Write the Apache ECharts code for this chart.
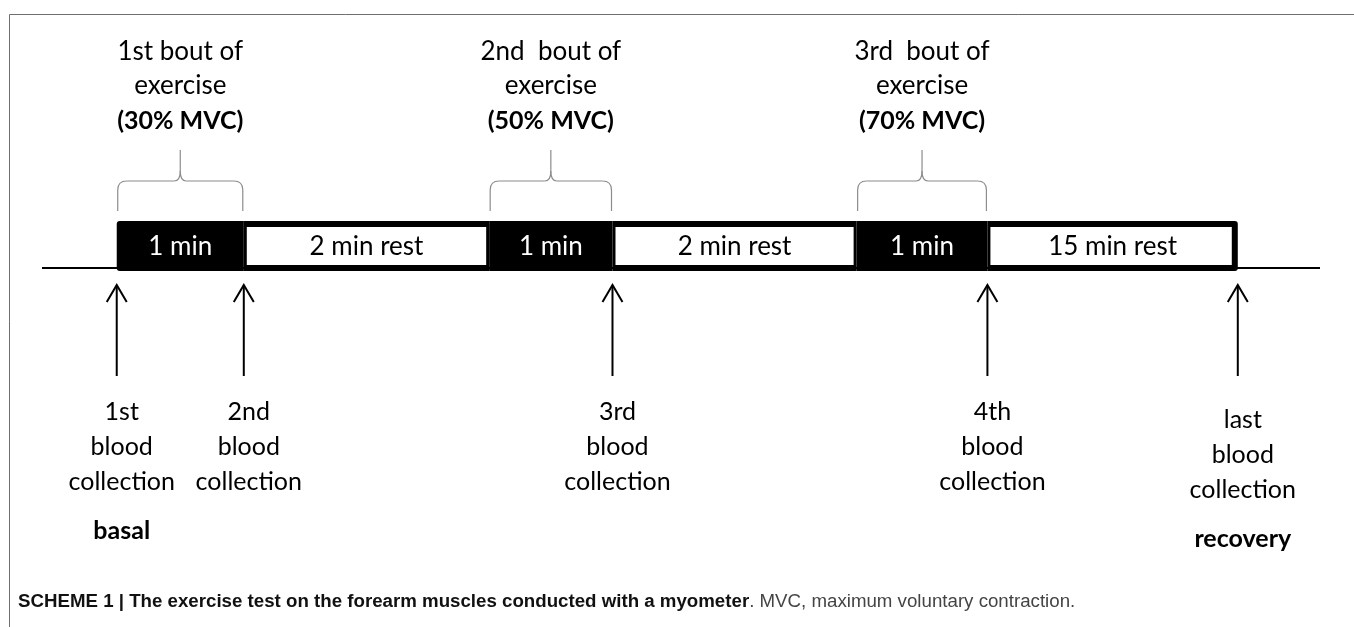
<!DOCTYPE html>
<html>
<head>
<meta charset="utf-8">
<title>Exercise test scheme</title>
<script src="https://cdn.jsdelivr.net/npm/echarts@6/dist/echarts.min.js"></script>
<style>
  html, body { margin: 0; padding: 0; background: #fff; }
  #chart { width: 1354px; height: 627px; }
</style>
</head>
<body>
<div id="chart"></div>
<script>
// timeline blocks (schematic widths, not to scale)
const segmentLabels = ['1 min', '2 min rest', '1 min', '2 min rest', '1 min', '15 min rest']
const segmentIsExercise = [true, false, true, false, true, false]
const segmentWidths = [1.02, 1.97, 0.99, 1.96, 1.05, 2.01]
const timelineExtent = [-0.6, 9.66]

// bouts of exercise sit over the black blocks
const boutSegments = [0, 2, 4]
const boutTitles = ['1st bout of', '2nd  bout of', '3rd  bout of']
const boutIntensities = ['(30% MVC)', '(50% MVC)', '(70% MVC)']

// blood collections at block boundaries
const collectionBoundaries = [0, 1, 3, 5, 6]
const collectionNames = ['1st', '2nd', '3rd', '4th', 'last']
const collectionPhases = ['basal', '', '', '', 'recovery']

const captionBold = 'SCHEME 1 | The exercise test on the forearm muscles conducted with a myometer'
const captionRest = '. MVC, maximum voluntary contraction.'

const FONT = 'Lato, "Open Sans", sans-serif'
const CAPTION_FONT = '"Liberation Sans", Arial, sans-serif'

// cumulative block edges
const edges = [0]
segmentWidths.forEach((w, i) => edges.push(edges[i] + w))

const segmentData = segmentWidths.map((w, i) => [edges[i], edges[i + 1], i])
const boutData = boutSegments.map((s, i) => [edges[s], edges[s + 1], i])
const collectionData = collectionBoundaries.map((b, i) => [edges[b], i])

const chart = echarts.init(document.getElementById('chart'))

const renderBaseline = (params, api) => {
  const cs = params.coordSys
  const y = api.coord([0, 0.06])[1]
  return {
    type: 'line',
    shape: { x1: cs.x, y1: y, x2: cs.x + cs.width, y2: y },
    style: { stroke: '#000', lineWidth: 2 }
  }
}

const renderSegment = (params, api) => {
  const i = api.value(2)
  const p0 = api.coord([api.value(0), 1])
  const p1 = api.coord([api.value(1), 0])
  const x = p0[0], y = p0[1], w = p1[0] - p0[0], h = p1[1] - p0[1]
  const last = i === segmentWidths.length - 1
  const children = [{
    type: 'rect',
    shape: { x: x, y: y, width: w, height: h, r: i === 0 ? [3, 0, 0, 3] : (last ? [0, 3, 3, 0] : 0) },
    style: { fill: '#000' }
  }]
  if (!segmentIsExercise[i]) {
    children.push({
      type: 'rect',
      shape: { x: x + 3, y: y + 6, width: w - (last ? 9 : 6), height: h - 12 },
      style: { fill: '#fff' }
    })
  }
  children.push({
    type: 'text',
    style: {
      x: x + w / 2, y: y + h / 2 + 1,
      text: segmentLabels[i],
      fill: segmentIsExercise[i] ? '#fff' : '#000',
      font: '26px ' + FONT,
      align: 'center', verticalAlign: 'middle'
    }
  })
  return { type: 'group', children: children }
}

const renderBout = (params, api) => {
  const i = api.value(2)
  const x0 = api.coord([api.value(0), 1])[0] + 1
  const x1 = api.coord([api.value(1), 1])[0] - 1
  const top = api.coord([0, 1])[1]
  const cx = (x0 + x1) / 2
  const yEnd = top - 10, yH = top - 40, yPeak = top - 71
  const stroke = { stroke: '#8c8c8c', lineWidth: 1.2, fill: null }
  const line = (a, b, c, d) => ({ type: 'line', shape: { x1: a, y1: b, x2: c, y2: d }, style: stroke })
  const curve = (a, b, c, d, e, f) => ({ type: 'bezierCurve', shape: { x1: a, y1: b, x2: c, y2: d, cpx1: e, cpy1: f }, style: stroke })
  return {
    type: 'group',
    children: [
      line(x0, yEnd, x0, yH + 9),
      curve(x0, yH + 9, x0 + 9, yH, x0, yH),
      line(x0 + 9, yH, cx - 6, yH),
      curve(cx - 6, yH, cx, yH - 10, cx, yH),
      line(cx, yH - 10, cx, yPeak),
      curve(cx + 6, yH, cx, yH - 10, cx, yH),
      line(cx + 6, yH, x1 - 9, yH),
      curve(x1 - 9, yH, x1, yH + 9, x1, yH),
      line(x1, yH + 9, x1, yEnd),
      {
        type: 'text',
        style: {
          x: cx, y: top - 186,
          text: boutTitles[i] + '\nexercise',
          fill: '#000', font: '26px ' + FONT, lineHeight: 34,
          align: 'center', verticalAlign: 'top'
        }
      },
      {
        type: 'text',
        style: {
          x: cx, y: top - 100,
          text: boutIntensities[i],
          fill: '#000', font: 'bold 25px ' + FONT,
          align: 'center', verticalAlign: 'middle'
        }
      }
    ]
  }
}

const renderCollection = (params, api) => {
  const i = api.value(1)
  const x = api.coord([api.value(0), 0])[0]
  const bottom = api.coord([0, 0])[1]
  const nudge = i === collectionNames.length - 1 ? 8 : 0
  const tip = bottom + 14, tail = bottom + 105
  const stroke = { stroke: '#000', lineWidth: 2, fill: null }
  return {
    type: 'group',
    children: [
      { type: 'line', shape: { x1: x, y1: tip, x2: x, y2: tail }, style: stroke },
      { type: 'polyline', shape: { points: [[x - 10, tip + 17], [x, tip], [x + 10, tip + 17]] }, style: stroke },
      {
        type: 'text',
        style: {
          x: x + 5, y: bottom + 123 + nudge,
          text: collectionNames[i] + '\nblood\ncollection',
          fill: '#000', font: '25px ' + FONT, lineHeight: 35,
          align: 'center', verticalAlign: 'top'
        }
      },
      {
        type: 'text',
        style: {
          x: x + 5, y: bottom + 260 + nudge,
          text: collectionPhases[i],
          fill: '#000', font: 'bold 25px ' + FONT,
          align: 'center', verticalAlign: 'middle'
        }
      }
    ]
  }
}

chart.setOption({
  animation: false,
  backgroundColor: '#fff',
  grid: { left: 42, right: 34, top: 221, height: 50 },
  xAxis: { type: 'value', min: timelineExtent[0], max: timelineExtent[1], show: false },
  yAxis: { type: 'value', min: 0, max: 1, show: false },
  graphic: [
    {
      type: 'rect',
      left: 7, top: 12,
      shape: { width: 1345, height: 640 },
      style: { fill: null, stroke: '#6e6e6e', lineWidth: 1 },
      silent: true
    },
    {
      type: 'text',
      left: 18, top: 592,
      style: {
        text: '{b|' + captionBold + '}{r|' + captionRest + '}',
        rich: {
          b: { font: 'bold 18.7px ' + CAPTION_FONT, fill: '#111' },
          r: { font: '18.7px ' + CAPTION_FONT, fill: '#444' }
        }
      }
    }
  ],
  series: [
    { type: 'custom', renderItem: renderBaseline, data: [[0]], clip: false, silent: true },
    { type: 'custom', renderItem: renderSegment, data: segmentData, clip: false, silent: true },
    { type: 'custom', renderItem: renderBout, data: boutData, clip: false, silent: true },
    { type: 'custom', renderItem: renderCollection, data: collectionData, clip: false, silent: true }
  ]
})

window.addEventListener('resize', () => chart.resize())
</script>
</body>
</html>
